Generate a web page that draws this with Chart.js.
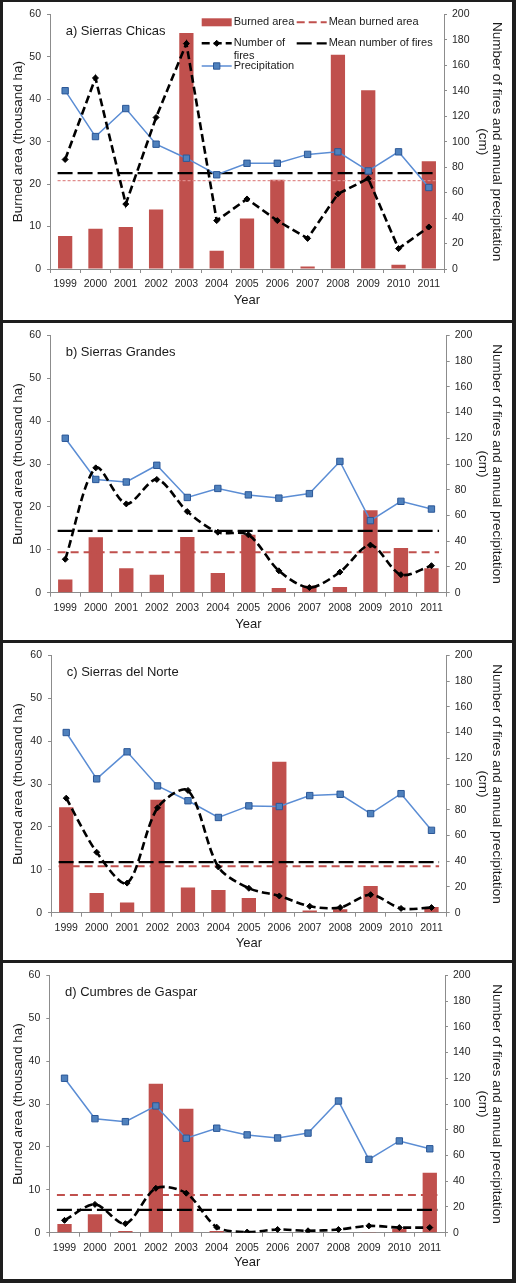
<!DOCTYPE html>
<html>
<head>
<meta charset="utf-8">
<script src="https://cdn.jsdelivr.net/npm/chart.js@4/dist/chart.umd.min.js"></script>
<style>
html, body { margin: 0; padding: 0; background: #1e1e1e; }
body { position: relative; width: 516px; height: 1283px; overflow: hidden; }
.panel { position: absolute; left: 3px; width: 509px; background: #fff; }
.panel canvas { display: block; }
</style>
</head>
<body>
<script>
const years = ['1999', '2000', '2001', '2002', '2003', '2004', '2005', '2006', '2007', '2008', '2009', '2010', '2011'];
const regions = ['a) Sierras Chicas', 'b) Sierras Grandes', 'c) Sierras del Norte', 'd) Cumbres de Gaspar'];

// burned area, thousand ha (left axis)
const burnedChicas  = [7.8, 9.5, 9.9, 14.0, 55.6, 4.3, 11.9, 21.0, 0.6, 50.5, 42.1, 1.0, 25.4];
const burnedGrandes = [3.1, 12.9, 5.7, 4.2, 13.0, 4.6, 13.5, 1.1, 1.6, 1.3, 19.2, 10.4, 5.7];
const burnedNorte   = [24.6, 4.6, 2.4, 26.3, 5.9, 5.3, 3.4, 35.2, 0.5, 0.8, 6.2, 0.1, 1.3];
const burnedGaspar  = [2.0, 4.3, 0.4, 34.7, 28.9, 0.4, 0.0, 0.1, 0.0, 0.0, 0.15, 0.9, 14.0];

// number of fires (right axis)
const firesChicas  = [86, 150, 51, 119, 177, 38, 55, 38, 24, 59, 71, 16, 33];
const firesGrandes = [26, 97, 69, 88, 63, 47, 45, 17, 4, 16, 37, 14, 21];
const firesNorte   = [89, 47, 23, 81.5, 95, 35.5, 19, 13, 5, 4, 14, 3.3, 4];
const firesGaspar  = [9.6, 22, 7, 34.5, 30.7, 4.3, 0.5, 2.5, 1.5, 2.5, 5.3, 4, 4];

// annual precipitation, cm (right axis)
const precipChicas  = [140, 104, 126, 98, 87, 74, 83, 83, 90, 92, 77, 92, 64];
const precipGrandes = [120, 88, 86, 99, 74, 81, 76, 73.5, 77, 102, 56, 71, 65];
const precipNorte   = [140, 104, 125, 98.5, 87, 74, 83, 82.5, 91, 92, 77, 92.5, 64];
const precipGaspar  = [120, 88.6, 86.3, 98.5, 73.4, 81.2, 76, 73.6, 77.4, 102.3, 57, 71.3, 65.2];

// means: burned area on the left axis, number of fires on the right axis
const meanBurned = [20.8, 9.4, 10.8, 8.8];
const meanFires  = [75.3, 48.1, 39.3, 17.8];

const burned = [burnedChicas, burnedGrandes, burnedNorte, burnedGaspar];
const fires = [firesChicas, firesGrandes, firesNorte, firesGaspar];
const precip = [precipChicas, precipGrandes, precipNorte, precipGaspar];

// panel boxes on the page and plot area edges inside each canvas
const frames = [
    {top: 2,   height: 318, padTop: 8,   bottom: 267,   left: 47,   right: 441,   yearGap: 20,   tension: 0,   thinMean: true, legend: true},
    {top: 323, height: 317, padTop: 7.7, bottom: 269.7, left: 47,   right: 443.7, yearGap: 16,   tension: 0.3},
    {top: 643, height: 317, padTop: 7,   bottom: 269.7, left: 48,   right: 443.7, yearGap: 16.7, tension: 0.3},
    {top: 963, height: 316, padTop: 7,   bottom: 269.7, left: 46.3, right: 442,   yearGap: 16.3, tension: 0.3}
];

const FONT = '"Liberation Sans", Arial, sans-serif';
Chart.defaults.font.family = FONT;
Chart.defaults.color = '#262626';

const axisGray = '#8c8c8c';
const barRed = '#c0504d';

let regionLabel = {
    id: 'regionLabel',
    afterDraw(chart, args, opts) {
        const ctx = chart.ctx, area = chart.chartArea;
        ctx.save();
        ctx.font = '13px ' + FONT;
        ctx.fillStyle = '#1a1a1a';
        ctx.textBaseline = 'middle';
        ctx.fillText(opts.text, area.left + 15.7, area.top + 17);
        ctx.restore();
    }
};

let cornerLegend = {
    id: 'cornerLegend',
    afterDraw(chart, args, opts) {
        if (!opts.items) return;
        const ctx = chart.ctx;
        const sets = chart.data.datasets;
        ctx.save();
        opts.items.forEach(it => {
            const d = sets[it.ds];
            const x = it.x, y = it.y;
            if (d.type === 'bar') {
                ctx.fillStyle = d.backgroundColor;
                ctx.fillRect(x, y - 4, 30, 8);
            } else {
                const st = it.line || {color: d.borderColor, width: d.borderWidth, dash: d.borderDash || []};
                ctx.strokeStyle = st.color;
                ctx.lineWidth = st.width;
                ctx.setLineDash(st.dash);
                ctx.beginPath();
                ctx.moveTo(x, y);
                ctx.lineTo(x + 30, y);
                ctx.stroke();
                ctx.setLineDash([]);
                if (d.pointRadius > 0) {
                    ctx.fillStyle = d.pointBackgroundColor;
                    ctx.strokeStyle = d.pointBorderColor;
                    ctx.lineWidth = d.pointBorderWidth || 1;
                    Chart.helpers.drawPoint(ctx, {pointStyle: d.pointStyle, radius: d.pointRadius, rotation: 0, borderWidth: ctx.lineWidth}, x + 15, y);
                }
            }
            ctx.font = '11px ' + FONT;
            ctx.fillStyle = '#1a1a1a';
            ctx.textBaseline = 'middle';
            it.text.forEach((t, k) => ctx.fillText(t, x + 32, y + k * 12.7));
        });
        ctx.restore();
    }
};

let makeChart = function(i) {
    const f = frames[i];
    const panel = document.createElement('div');
    panel.className = 'panel';
    panel.style.top = f.top + 'px';
    panel.style.height = f.height + 'px';
    const canvas = document.createElement('canvas');
    canvas.setAttribute('width', 509);
    canvas.setAttribute('height', f.height);
    panel.appendChild(canvas);
    document.body.appendChild(panel);

    const meanRed = f.thinMean
        ? {borderColor: '#e08c8c', borderWidth: 1.2, borderDash: [3, 2]}
        : {borderColor: barRed, borderWidth: 2, borderDash: [8, 5]};

    return new Chart(canvas.getContext('2d'), {
        type: 'bar',
        data: {
            labels: years,
            datasets: [{
                type: 'bar',
                label: 'Burned area',
                data: burned[i],
                backgroundColor: barRed,
                barPercentage: 0.47,
                categoryPercentage: 1,
                grouped: false,
                yAxisID: 'y',
                order: 5
            }, Object.assign({
                type: 'line',
                label: 'Mean burned area',
                data: [{x: 0, y: meanBurned[i]}, {x: 1, y: meanBurned[i]}],
                xAxisID: 'xm',
                yAxisID: 'y',
                pointRadius: 0,
                fill: false,
                order: 4
            }, meanRed), {
                type: 'line',
                label: 'Number of fires',
                data: fires[i],
                yAxisID: 'y2',
                borderColor: '#000',
                borderWidth: 2.6,
                borderDash: [8, 4],
                pointStyle: 'rectRot',
                pointRadius: 3,
                pointBackgroundColor: '#000',
                pointBorderColor: '#000',
                pointBorderWidth: 1,
                tension: f.tension,
                fill: false,
                order: 1
            }, {
                type: 'line',
                label: 'Mean number of fires',
                data: [{x: 0, y: meanFires[i]}, {x: 1, y: meanFires[i]}],
                xAxisID: 'xm',
                yAxisID: 'y2',
                borderColor: '#000',
                borderWidth: 2.2,
                borderDash: [15, 5],
                pointRadius: 0,
                fill: false,
                order: 3
            }, {
                type: 'line',
                label: 'Precipitation',
                data: precip[i],
                yAxisID: 'y2',
                borderColor: '#5b8dd4',
                borderWidth: 1.5,
                pointStyle: 'rect',
                pointRadius: 4.5,
                pointBackgroundColor: '#4f81bd',
                pointBorderColor: '#2b5797',
                pointBorderWidth: 1,
                tension: 0,
                fill: false,
                order: 2
            }]
        },
        options: {
            responsive: false,
            animation: false,
            devicePixelRatio: 1,
            layout: {padding: {top: f.padTop, left: 0, right: 0, bottom: 0}},
            plugins: {
                legend: {display: false},
                tooltip: {enabled: false},
                regionLabel: {text: regions[i]},
                cornerLegend: f.legend ? {items: [
                    {ds: 0, x: 198.7, y: 20.3, text: ['Burned area']},
                    {ds: 1, x: 293.7, y: 20.3, text: ['Mean burned area'], line: {color: barRed, width: 2, dash: [8, 4]}},
                    {ds: 2, x: 198.7, y: 41.3, text: ['Number of', 'fires']},
                    {ds: 3, x: 293.7, y: 41.3, text: ['Mean number of fires']},
                    {ds: 4, x: 198.7, y: 64, text: ['Precipitation']}
                ]} : {}
            },
            scales: {
                x: {
                    type: 'category',
                    offset: true,
                    grid: {offset: true, drawOnChartArea: false, drawTicks: true, tickLength: 4, color: axisGray},
                    border: {color: axisGray},
                    ticks: {font: {size: 10.5}, padding: 5, maxRotation: 0, autoSkip: false},
                    title: {display: true, text: 'Year', color: '#1a1a1a', font: {size: 13, lineHeight: 1.05}, padding: {top: 0, bottom: f.yearGap - 6.8}},
                    afterFit: s => { s.height = f.height - f.bottom; }
                },
                xm: {
                    type: 'linear',
                    display: false,
                    offset: false,
                    bounds: 'data',
                    grid: {offset: false},
                    min: -0.02,
                    max: 1.02
                },
                y: {
                    position: 'left',
                    min: 0,
                    max: 60,
                    ticks: {stepSize: 10, padding: 6, font: {size: 10.5}},
                    grid: {drawOnChartArea: false, tickLength: 3, color: axisGray},
                    border: {color: axisGray},
                    title: {display: true, text: 'Burned area (thousand ha)', color: '#1a1a1a', font: {size: 13.5, lineHeight: 1.05}, padding: {top: 8, bottom: 0}},
                    afterFit: s => { s.width = f.left; }
                },
                y2: {
                    position: 'right',
                    min: 0,
                    max: 200,
                    ticks: {stepSize: 20, padding: 5, font: {size: 10.5}},
                    grid: {drawOnChartArea: false, tickLength: 3, color: axisGray},
                    border: {color: axisGray},
                    title: {display: true, text: ['Number of fires and annual precipitation', '(cm)'], color: '#1a1a1a', font: {size: 13.5, lineHeight: 1.05}, padding: {top: 8, bottom: 0}},
                    afterFit: s => { s.width = 509 - f.right; }
                }
            }
        },
        plugins: [regionLabel, cornerLegend]
    });
};

regions.forEach((r, i) => makeChart(i));
</script>
</body>
</html>
